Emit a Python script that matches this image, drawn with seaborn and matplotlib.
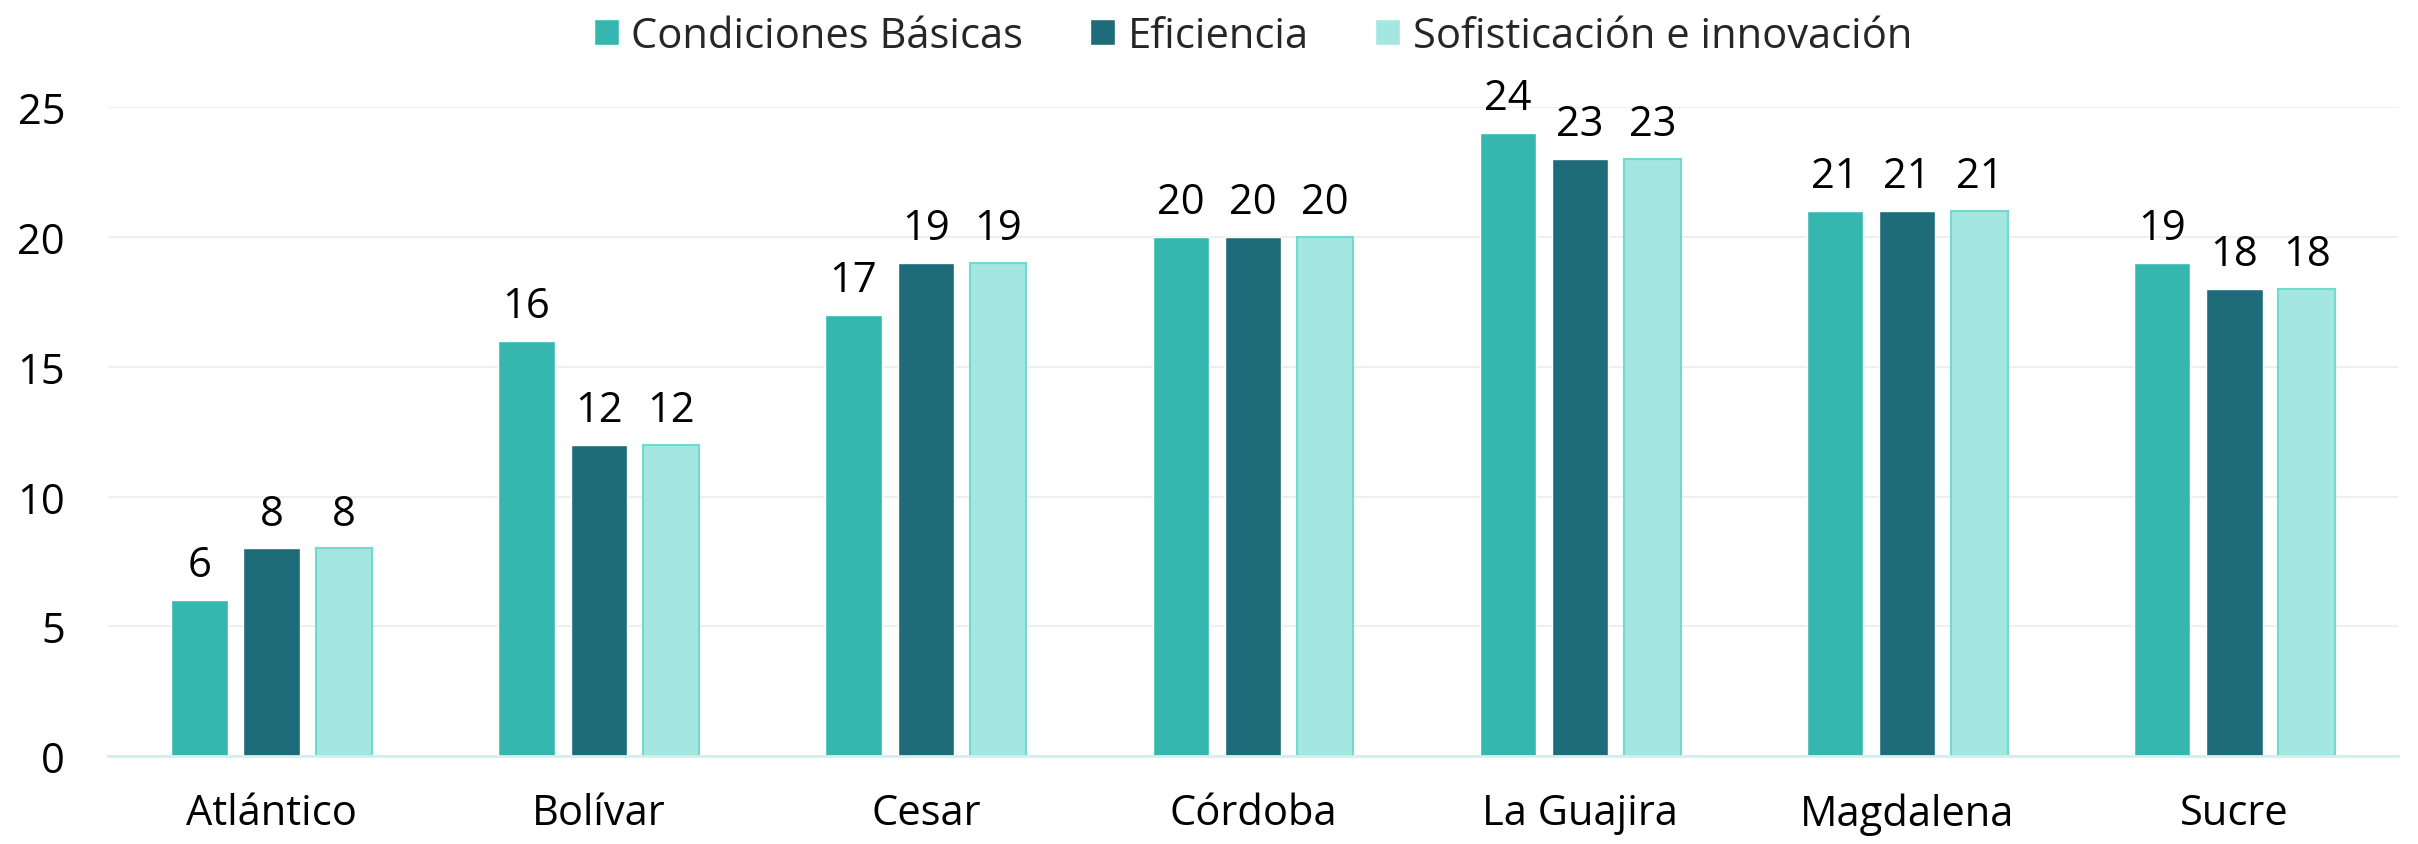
import pandas as pd
import matplotlib.pyplot as plt
import seaborn as sns

departamentos = ["Atlántico", "Bolívar", "Cesar", "Córdoba", "La Guajira", "Magdalena", "Sucre"]
condiciones = [6, 16, 17, 20, 24, 21, 19]
eficiencia = [8, 12, 19, 20, 23, 21, 18]
sofisticacion = [8, 12, 19, 20, 23, 21, 18]
series = ["Condiciones Básicas", "Eficiencia", "Sofisticación e innovación"]

df = pd.DataFrame({
    "Departamento": departamentos * 3,
    "Pilar": [series[0]] * 7 + [series[1]] * 7 + [series[2]] * 7,
    "Valor": condiciones + eficiencia + sofisticacion,
})

sns.set_theme(style="white")
plt.rcParams['font.family'] = ['Open Sans', 'DejaVu Sans']

colores = ["#35B7B0", "#1E6B7A", "#A3E7E0"]
fs = 30
fig = plt.figure(figsize=(24.18, 8.45), dpi=100)
ax = fig.add_axes([0.0447, 0.104, 0.947, 0.768])

sns.barplot(data=df, x="Departamento", y="Valor", hue="Pilar", palette=colores,
            width=0.663, gap=0.22, ax=ax, legend=True, saturation=1)

# borde del tercer grupo
for bar in ax.containers[2]:
    bar.set_edgecolor("#72D9D1")
    bar.set_linewidth(1.5)

for cont in ax.containers:
    ax.bar_label(cont, fontsize=fs, padding=10, color="black")

ax.set_ylim(0, 25)
ax.set_yticks([0, 5, 10, 15, 20, 25])
ax.yaxis.grid(True, color="#EFEFEF", linewidth=1.5)
ax.set_axisbelow(True)
for s in ["top", "right", "left"]:
    ax.spines[s].set_visible(False)
ax.spines["bottom"].set_color("#D4F0EE")
ax.spines["bottom"].set_linewidth(2)
ax.tick_params(axis="both", labelsize=fs, length=0, colors="black")
ax.tick_params(axis="x", pad=26)
ax.tick_params(axis="y", pad=31)
ax.set_xlabel("")
ax.set_ylabel("")

ax.legend(loc="upper center", bbox_to_anchor=(0.5, 1.2), ncol=3, frameon=False,
          fontsize=fs, handlelength=0.6, handleheight=0.6, handletextpad=0.3, columnspacing=1.6)

fig.savefig("out.png", dpi=100)
